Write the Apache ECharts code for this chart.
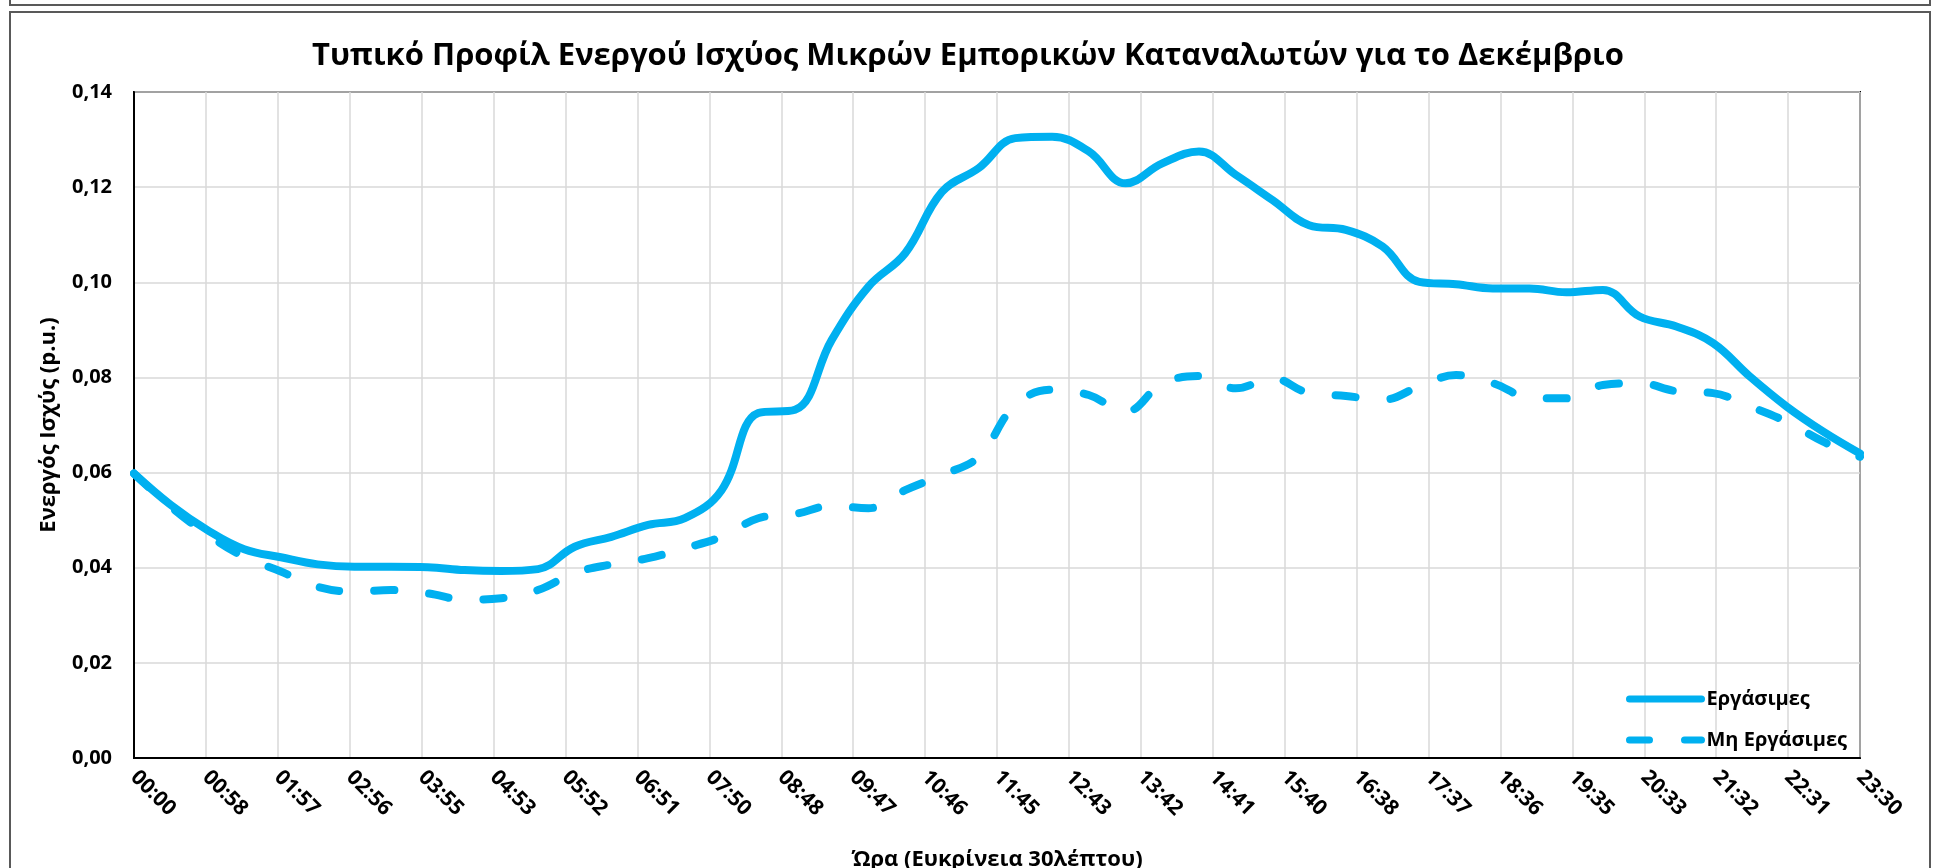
<!DOCTYPE html>
<html>
<head>
<meta charset="utf-8">
<script src="https://cdn.jsdelivr.net/npm/echarts@6/dist/echarts.min.js"></script>
<style>
  html, body { margin: 0; padding: 0; background: #fff; }
  #chart { width: 1936px; height: 868px; }
</style>
</head>
<body>
<div id="chart"></div>
<script>
// 30-minute slots
const slots = [
  "00:00","00:30","01:00","01:30","02:00","02:30","03:00","03:30",
  "04:00","04:30","05:00","05:30","06:00","06:30","07:00","07:30",
  "08:00","08:30","09:00","09:30","10:00","10:30","11:00","11:30",
  "12:00","12:30","13:00","13:30","14:00","14:30","15:00","15:30",
  "16:00","16:30","17:00","17:30","18:00","18:30","19:00","19:30",
  "20:00","20:30","21:00","21:30","22:00","22:30","23:00","23:30"
];

const ergasimes = [
  0.0598, 0.0532, 0.0479, 0.0439, 0.0422, 0.0407, 0.0402, 0.0402,
  0.0401, 0.0395, 0.0393, 0.0397, 0.0444, 0.0465, 0.0490, 0.0504,
  0.0563, 0.0725, 0.0732, 0.0879, 0.0991, 0.1061, 0.1190, 0.1240,
  0.1303, 0.1306, 0.1275, 0.1208, 0.1250, 0.1275, 0.1226, 0.1173,
  0.1120, 0.1110, 0.1075, 0.1001, 0.0996, 0.0987, 0.0987, 0.0979,
  0.0984, 0.0928, 0.0907, 0.0872, 0.0802, 0.0739, 0.0686, 0.0640
];

const mhErgasimes = [
  0.0598, 0.0528, 0.0470, 0.0423, 0.0392, 0.0360, 0.0350, 0.0353,
  0.0346, 0.0333, 0.0336, 0.0353, 0.0389, 0.0407, 0.0420, 0.0441,
  0.0465, 0.0504, 0.0513, 0.0530, 0.0525, 0.0563, 0.0595, 0.0633,
  0.0742, 0.0774, 0.0763, 0.0728, 0.0787, 0.0803, 0.0777, 0.0798,
  0.0767, 0.0761, 0.0753, 0.0781, 0.0805, 0.0788, 0.0758, 0.0756,
  0.0784, 0.0788, 0.0771, 0.0767, 0.0739, 0.0707, 0.0665, 0.0633
];

const xTickLabels = [
  "00:00","00:58","01:57","02:56","03:55","04:53","05:52","06:51",
  "07:50","08:48","09:47","10:46","11:45","12:43","13:42","14:41",
  "15:40","16:38","17:37","18:36","19:35","20:33","21:32","22:31","23:30"
];
const yTickLabels = ["0,00","0,02","0,04","0,06","0,08","0,10","0,12","0,14"];

const FONT = "Open Sans";
const BLUE = "#00B0F0";
const X_STEP = 58.75; // minutes between x ticks (23:30 / 24)

const toMin = (s) => {
  const p = s.split(":");
  return (+p[0]) * 60 + (+p[1]);
};
const pairs = (vals) => vals.map((v, i) => [toMin(slots[i]), v]);

var myChart = echarts.init(document.getElementById("chart"));
var option;

option = {
  backgroundColor: "#fff",
  animation: false,
  title: {
    text: "Τυπικό Προφίλ Ενεργού Ισχύος Μικρών Εμπορικών Καταναλωτών για το Δεκέμβριο",
    left: "center",
    top: 36,
    textStyle: { fontFamily: FONT, fontWeight: "bold", fontSize: 31, color: "#000" },
  },
  graphic: [
    // frame of the chart box and the edge of the one above
    { type: "rect", silent: true, shape: { x: 10, y: 12, width: 1920, height: 880 },
      style: { fill: null, stroke: "#595959", lineWidth: 2 } },
    { type: "polyline", silent: true, shape: { points: [[10, -2], [10, 5], [1930, 5], [1930, -2]] },
      style: { fill: null, stroke: "#595959", lineWidth: 2 } },
  ],
  legend: {
    orient: "vertical",
    left: 1621,
    top: 684,
    itemWidth: 72,
    itemHeight: 14,
    itemGap: 21,
    textStyle: { fontFamily: FONT, fontWeight: "bold", fontSize: 20, color: "#000" },
    lineStyle: { width: 7 },
    itemStyle: { opacity: 0 },
    data: ["Εργάσιμες", "Μη Εργάσιμες"],
  },
  grid: {
    left: 134,
    right: 76,
    top: 92,
    bottom: 110,
    outerBoundsMode: "none",
    show: true,
    borderColor: "#000",
    borderWidth: 2,
    containLabel: false,
  },
  xAxis: {
    type: "value",
    min: 0,
    max: 1410,
    interval: X_STEP,
    name: "Ώρα (Ευκρίνεια 30λέπτου)",
    nameLocation: "middle",
    nameGap: 91,
    nameTextStyle: { fontFamily: FONT, fontWeight: "bold", fontSize: 22, color: "#000" },
    axisLine: { lineStyle: { color: "#000", width: 2 } },
    axisTick: { show: false },
    axisLabel: {
      rotate: -45,
      margin: 16,
      fontFamily: FONT,
      fontWeight: "bold",
      fontSize: 21,
      color: "#000",
      showMaxLabel: true,
      formatter: (v) => xTickLabels[Math.round(v / X_STEP)],
    },
    splitLine: { show: true, lineStyle: { color: "#d9d9d9", width: 1.5 } },
  },
  yAxis: {
    type: "value",
    min: 0,
    max: 0.14,
    interval: 0.02,
    name: "Ενεργός Ισχύς (p.u.)",
    nameLocation: "middle",
    nameGap: 74,
    nameTextStyle: { fontFamily: FONT, fontWeight: "bold", fontSize: 22, color: "#000" },
    axisLine: { show: true, lineStyle: { color: "#000", width: 2 } },
    axisTick: { show: false },
    axisLabel: {
      margin: 22,
      fontFamily: FONT,
      fontWeight: "bold",
      fontSize: 20,
      color: "#000",
      formatter: (v) => yTickLabels[Math.round(v / 0.02)],
    },
    splitLine: { show: true, lineStyle: { color: "#d9d9d9", width: 1.5 } },
  },
  series: [
    {
      name: "Εργάσιμες",
      type: "line",
      smooth: 0.4,
      symbol: "none",
      color: BLUE,
      lineStyle: { color: BLUE, width: 8, cap: "round", join: "round" },
      data: pairs(ergasimes),
      z: 3,
    },
    {
      name: "Μη Εργάσιμες",
      type: "line",
      smooth: 0.4,
      symbol: "none",
      color: BLUE,
      lineStyle: { color: BLUE, width: 8, type: [20, 35], cap: "round", join: "round" },
      data: pairs(mhErgasimes),
      z: 2,
    },
  ],
};
option && myChart.setOption(option);
</script>
</body>
</html>
